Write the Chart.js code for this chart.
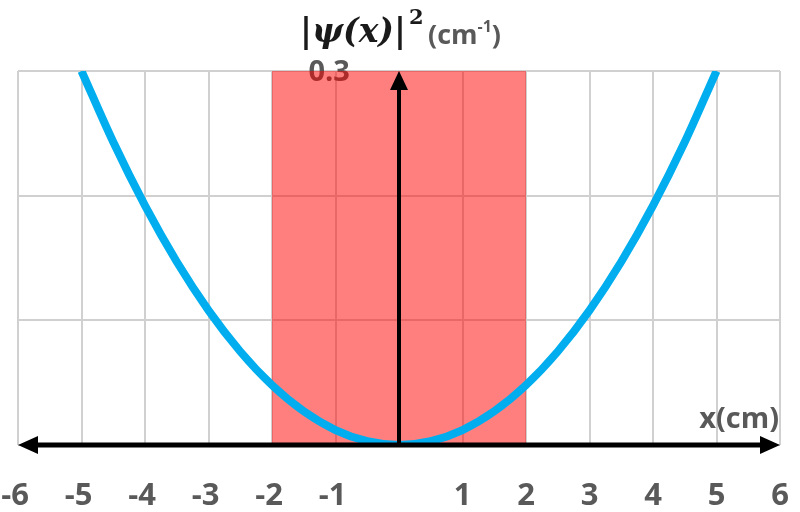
<!DOCTYPE html>
<html>
<head>
<meta charset="utf-8">
<script src="https://cdn.jsdelivr.net/npm/chart.js@4"></script>
<style>
html,body{margin:0;padding:0;background:#fff;}
#wrap{width:800px;height:512px;position:relative;}
</style>
</head>
<body>
<div id="wrap"><canvas id="c" width="800" height="512"></canvas></div>
<script>
// ---- data ----
const xTicks = [-6,-5,-4,-3,-2,-1,1,2,3,4,5,6];
const curveX = [-5,-4.5,-4,-3.5,-3,-2.5,-2,-1.5,-1,-0.5,0,0.5,1,1.5,2,2.5,3,3.5,4,4.5,5];
const curveY = [0.300,0.243,0.192,0.147,0.108,0.075,0.048,0.027,0.012,0.003,0.000,0.003,0.012,0.027,0.048,0.075,0.108,0.147,0.192,0.243,0.300];
const bandX = [-2, 2];
const bandY = [0.3, 0.3];
const yTopLabel = 0.3;
const xRange = [-6, 6];
const yRange = [0, 0.3];

const GRAY = '#595959';
const SANS = '"Open Sans", "DejaVu Sans", sans-serif';
const SERIF = '"DejaVu Serif", "Liberation Serif", serif';

const curveData = curveX.map((x,i)=>({x:x,y:curveY[i]}));
const bandData = bandX.map((x,i)=>({x:x,y:bandY[i]}));

function arrowHead(ctx, tx, ty, dir, len, half){
  ctx.beginPath();
  if(dir==='left'){ ctx.moveTo(tx,ty); ctx.lineTo(tx+len,ty-half); ctx.lineTo(tx+len,ty+half); }
  else if(dir==='right'){ ctx.moveTo(tx,ty); ctx.lineTo(tx-len,ty-half); ctx.lineTo(tx-len,ty+half); }
  else { ctx.moveTo(tx,ty); ctx.lineTo(tx-half,ty+len); ctx.lineTo(tx+half,ty+len); }
  ctx.closePath(); ctx.fill();
}

const decor = {
  id:'decor',
  beforeDatasetsDraw(chart){
    const ctx = chart.ctx, xs = chart.scales.x, ys = chart.scales.y;
    ctx.save();
    ctx.fillStyle = GRAY;
    ctx.font = '700 29px ' + SANS;
    ctx.textAlign = 'center';
    ctx.textBaseline = 'middle';
    ctx.fillText(String(yTopLabel), xs.getPixelForValue(-1.1), ys.getPixelForValue(yTopLabel)+2);
    ctx.restore();
  },
  afterDatasetsDraw(chart){
    const ctx = chart.ctx, xs = chart.scales.x, ys = chart.scales.y;
    const y0 = ys.getPixelForValue(0);
    const xl = xs.getPixelForValue(xRange[0]), xr = xs.getPixelForValue(xRange[1]);
    const x0 = xs.getPixelForValue(0), yt = ys.getPixelForValue(yRange[1]);
    ctx.save();
    ctx.fillStyle = '#000'; ctx.strokeStyle = '#000';
    ctx.lineWidth = 5;
    ctx.beginPath(); ctx.moveTo(xl+15, y0); ctx.lineTo(xr-15, y0); ctx.stroke();
    arrowHead(ctx, xl, y0, 'left', 20, 9);
    arrowHead(ctx, xr, y0, 'right', 20, 9);
    ctx.lineWidth = 4;
    ctx.beginPath(); ctx.moveTo(x0, y0); ctx.lineTo(x0, yt+14); ctx.stroke();
    arrowHead(ctx, x0, yt, 'up', 19, 9);
    ctx.restore();

    ctx.save();
    ctx.fillStyle = GRAY;
    ctx.font = '700 31px ' + SANS;
    ctx.textAlign = 'center';
    ctx.textBaseline = 'middle';
    xTicks.forEach(v=>{
      ctx.fillText(String(v), xs.getPixelForValue(v) + (v<0 ? -3 : 0), 496);
    });
    ctx.font = '700 29px ' + SANS;
    ctx.textAlign = 'right';
    ctx.textBaseline = 'alphabetic';
    ctx.fillText('x(cm)', 779, 428);
    // y title
    ctx.fillStyle = '#1a1a1a';
    ctx.textAlign = 'left';
    ctx.font = 'italic 700 33px ' + SERIF;
    const t = '|\u03C8(x)|';
    ctx.fillText(t, 300, 42);
    let w = ctx.measureText(t).width;
    ctx.font = '700 21px ' + SERIF;
    ctx.fillText('2', 300+w+3, 24);
    ctx.fillStyle = GRAY;
    ctx.font = '700 27px ' + SANS;
    let cx = 428;
    ctx.fillText('(cm', cx, 44);
    cx += ctx.measureText('(cm').width;
    ctx.font = '700 16px ' + SANS;
    ctx.fillText('-1', cx, 32);
    cx += ctx.measureText('-1').width;
    ctx.font = '700 27px ' + SANS;
    ctx.fillText(')', cx, 44);
    ctx.restore();
  }
};

new Chart(document.getElementById('c'), {
  type:'scatter',
  data:{
    datasets:[
      {
        label:'psi2',
        data:curveData,
        showLine:true,
        borderColor:'#00AEEF',
        borderWidth:8,
        pointRadius:0,
        fill:false,
        cubicInterpolationMode:'monotone',
        clip:0
      },
      {
        label:'band',
        data:bandData,
        showLine:true,
        borderWidth:0,
        borderColor:'rgba(0,0,0,0)',
        backgroundColor:'rgba(255,0,0,0.5)',
        pointRadius:0,
        fill:'origin'
      }
    ]
  },
  options:{
    responsive:false,
    animation:false,
    devicePixelRatio:1,
    layout:{padding:{left:18,right:20,top:71,bottom:67}},
    plugins:{legend:{display:false},tooltip:{enabled:false},title:{display:false}},
    scales:{
      x:{
        type:'linear', min:xRange[0], max:xRange[1],
        ticks:{display:false, stepSize:1},
        grid:{color:'#d0d0d0', lineWidth:2, drawTicks:false},
        border:{display:false}
      },
      y:{
        type:'linear', min:yRange[0], max:yRange[1],
        ticks:{display:false, stepSize:0.1},
        grid:{color:'#d0d0d0', lineWidth:2, drawTicks:false},
        border:{display:false}
      }
    }
  },
  plugins:[decor]
});
</script>
</body>
</html>
